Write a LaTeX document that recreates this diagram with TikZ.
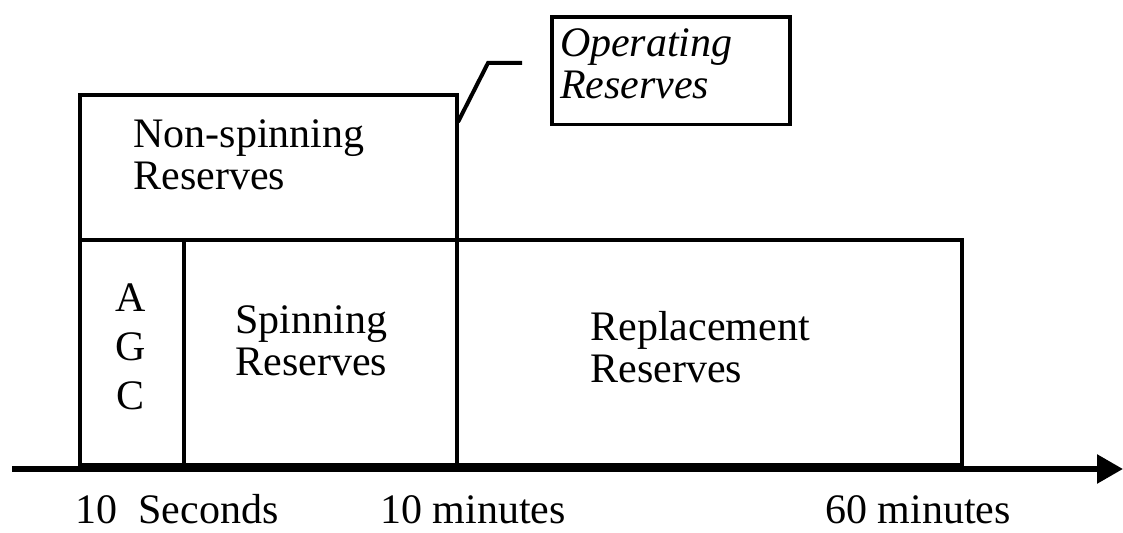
\documentclass[tikz,border=0pt]{standalone}
\usepackage{fontspec}
\setmainfont{Liberation Serif}
\usetikzlibrary{arrows.meta}
\tikzset{
  blockline/.style={line width=2.2pt, line join=miter},
  axisline/.style={line width=2.8pt, -{Triangle[length=13pt,width=14pt]}},
  leader/.style={line width=2pt, line join=miter},
  lbl/.style={inner sep=0pt, align=left, font=\fontsize{21}{21}\selectfont},
  operbox/.style={draw, line width=1.8pt, align=left, text width=111pt,
    inner xsep=4pt, inner ysep=6pt, text depth=28pt,
    font=\fontsize{21}{21}\selectfont\itshape}
}
\newcommand{\block}[4]{\draw[blockline] ( #1 , #2 ) rectangle ( #3 , #4 );}

\begin{document}
\begin{tikzpicture}[x=0.5pt, y=-0.5pt]
        \useasboundingbox (0,0) rectangle (1123,533);
        % upper row
        \block{80}{95}{457}{240}
        % lower row
        \block{80}{240}{184}{465}
        \block{184}{240}{457}{465}
        \block{457}{240}{962}{465}
        % time axis
        \coordinate (axstart) at (12,469);
        \coordinate (axend) at (1123,469);
        \draw[axisline] (axstart) -- (axend);
        % labels in the blocks
        \node[lbl, anchor=west] (nonspin) at (133,155) {Non-spinning\\Reserves};
        \node[lbl, align=center, font=\fontsize{21}{24.5}\selectfont] (agc) at (131,347) {A\\G\\C};
        \node[lbl, anchor=west] (spin) at (235,341) {Spinning\\Reserves};
        \node[lbl, anchor=west] (repl) at (590,347) {Replacement\\Reserves};
        % operating reserves
        \node[operbox, anchor=north] (oper) at (671,15) {Operating\\Reserves};
        \coordinate (corner) at (458,122);
        \coordinate (bend) at (488,63);
        \coordinate (tail) at (522,63);
        \draw[leader] (corner) -- (bend) -- (tail);
        % time labels
        \node[lbl, anchor=base west] (tsec) at (75,523) {10\ \ Seconds};
        \node[lbl, anchor=base west] (tten) at (380,523) {10 minutes};
        \node[lbl, anchor=base west] (tsixty) at (825,523) {60 minutes};
\end{tikzpicture}
\end{document}
